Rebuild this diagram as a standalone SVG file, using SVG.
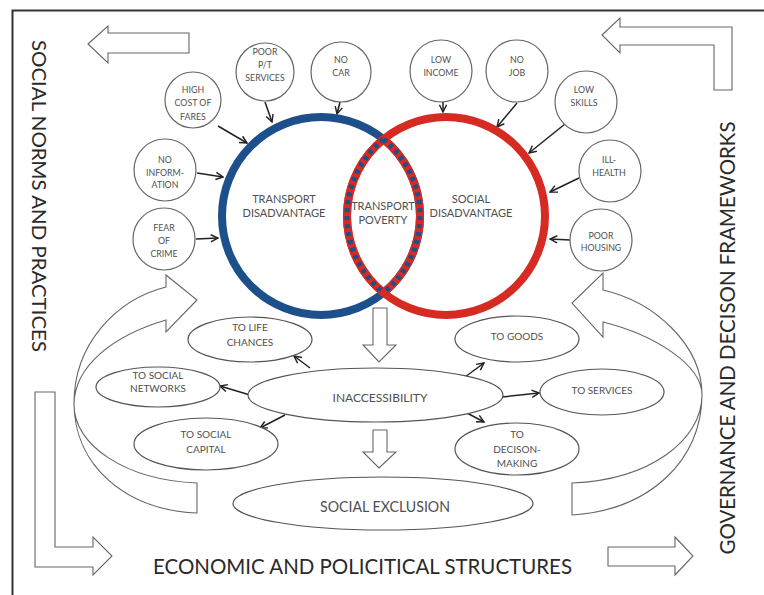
<svg xmlns="http://www.w3.org/2000/svg" width="764" height="595" viewBox="0 0 764 595">
<defs>
<style>
.t{font-family:Lato,"Liberation Sans",sans-serif;fill:#505050;text-anchor:middle}
.s{font-size:8.8px}
.m{font-size:10px}
.big{font-family:Lato,"Liberation Sans",sans-serif;fill:#2a2a2a;text-anchor:middle}
.sc{fill:#fff;stroke:#666;stroke-width:1.2}
.el{fill:#fff;stroke:#555;stroke-width:1.2}
.ba{fill:#fff;stroke:#666;stroke-width:1.1;stroke-linejoin:miter}
.cn line{stroke:#222;stroke-width:1.5;marker-end:url(#ah)}
</style>
<marker id="ah" viewBox="0 0 10 10" refX="9" refY="5" markerWidth="9" markerHeight="9" markerUnits="userSpaceOnUse" orient="auto">
<path d="M1,1 L9,5 L1,9" fill="none" stroke="#222" stroke-width="1.6"/>
</marker>
</defs>
<rect x="0" y="0" width="764" height="595" fill="#fff"/>
<rect x="12.5" y="10.5" width="760" height="600" fill="none" stroke="#333" stroke-width="2"/>

<!-- side texts -->
<g id="side-left"><text class="big" font-size="19" transform="translate(32,196) rotate(90)" textLength="312" lengthAdjust="spacingAndGlyphs">SOCIAL NORMS AND PRACTICES</text></g>
<g id="side-right"><text class="big" font-size="21" transform="translate(735,338) rotate(-90)" textLength="433" lengthAdjust="spacingAndGlyphs">GOVERNANCE AND DECISON FRAMEWORKS</text></g>
<g id="side-bottom"><text class="big" font-size="21" x="362.5" y="574" textLength="419" lengthAdjust="spacingAndGlyphs">ECONOMIC AND POLICITICAL STRUCTURES</text></g>

<!-- block arrows -->
<g id="block-arrows">
<polygon class="ba" points="88,44 108,26 108,33 189,33 189,53 108,53 108,63"/>
<polygon class="ba" points="602,35 620,18 620,27 732,27 732,90 714,90 714,45 620,45 620,53"/>
<polygon class="ba" points="35,392 55,392 55,547 93,547 93,537 112,556 93,575 93,567 35,567"/>
<polygon class="ba" points="608,547 675,547 675,537 693,556 675,575 675,566 608,566"/>
<path class="ba" d="M166,287 L166,275 L197,300 L166,332 L166,320 C115,335 74,365 74,405 C74,445 125,480 197,483 L197,513 C125,510 74,465 74,403 C74,345 115,300 166,287 Z"/>
<path class="ba" d="M603,290 L603,273 L572,303 L603,337 L603,322 C655,335 702,365 702,395 C702,440 650,480 572,483 L572,515 C650,510 702,460 702,395 C702,345 655,302 603,290 Z"/>
<polygon class="ba" points="373,308 387,308 387,345 396,345 379,362 363,345 373,345"/>
<polygon class="ba" points="373,430 387,430 387,452 396,452 379,468 363,452 373,452"/>
</g>

<!-- connectors -->
<g id="connectors" class="cn">
<line x1="218" y1="126" x2="247" y2="143"/>
<line x1="265" y1="102" x2="272" y2="122"/>
<line x1="340" y1="102" x2="337" y2="114"/>
<line x1="197" y1="173" x2="223" y2="177"/>
<line x1="196" y1="239" x2="218" y2="238"/>
<line x1="443" y1="102" x2="443" y2="112"/>
<line x1="517" y1="103" x2="497" y2="127"/>
<line x1="565" y1="124" x2="529" y2="153"/>
<line x1="579" y1="178" x2="550" y2="192"/>
<line x1="570" y1="240" x2="550" y2="239"/>
<line x1="310" y1="368" x2="294" y2="356"/>
<line x1="250" y1="395" x2="220" y2="386"/>
<line x1="285" y1="415" x2="260" y2="428"/>
<line x1="465" y1="377" x2="484" y2="363"/>
<line x1="502" y1="397" x2="539" y2="393"/>
<line x1="467" y1="413" x2="484" y2="422"/>
</g>

<!-- big circles -->
<g id="transport-disadvantage">
<circle cx="321" cy="216" r="99" fill="none" stroke="#1d4f8a" stroke-width="8"/>
<text class="t" font-size="11" x="284" y="203">TRANSPORT</text>
<text class="t" font-size="11" x="284" y="217">DISADVANTAGE</text>
</g>
<g id="social-disadvantage">
<circle cx="446" cy="216" r="99" fill="none" stroke="#d62b22" stroke-width="8"/>
<text class="t" font-size="11" x="471" y="203">SOCIAL</text>
<text class="t" font-size="11" x="471" y="217">DISADVANTAGE</text>
</g>
<g id="transport-poverty">
<path d="M383.5,139.2 A99,99 0 0 1 383.5,292.8" fill="none" stroke="#d62b22" stroke-width="8"/>
<path d="M383.5,139.2 A99,99 0 0 0 383.5,292.8" fill="none" stroke="#d62b22" stroke-width="8"/>
<path d="M383.5,139.2 A99,99 0 0 1 383.5,292.8" fill="none" stroke="#1d4f8a" stroke-width="5" stroke-dasharray="4 4"/>
<path d="M383.5,139.2 A99,99 0 0 0 383.5,292.8" fill="none" stroke="#1d4f8a" stroke-width="5" stroke-dasharray="4 4"/>
<text class="t" font-size="11" x="383" y="210">TRANSPORT</text>
<text class="t" font-size="11" x="383" y="224">POVERTY</text>
</g>

<!-- small circles -->
<g id="high-cost"><circle class="sc" cx="193" cy="100" r="28"/>
<text class="t s" x="193" y="93">HIGH</text><text class="t s" x="193" y="106">COST OF</text><text class="t s" x="193" y="120">FARES</text></g>
<g id="poor-pt"><circle class="sc" cx="265" cy="72" r="29"/>
<text class="t s" x="265" y="55">POOR</text><text class="t s" x="265" y="68">P/T</text><text class="t s" x="265" y="81">SERVICES</text></g>
<g id="no-car"><circle class="sc" cx="341" cy="72" r="30"/>
<text class="t s" x="341" y="63">NO</text><text class="t s" x="341" y="76">CAR</text></g>
<g id="no-information"><circle class="sc" cx="165" cy="170" r="31"/>
<text class="t s" x="165" y="163">NO</text><text class="t s" x="165" y="176">INFORM-</text><text class="t s" x="165" y="188">ATION</text></g>
<g id="fear-of-crime"><circle class="sc" cx="164" cy="239" r="31"/>
<text class="t s" x="164" y="231">FEAR</text><text class="t s" x="164" y="244">OF</text><text class="t s" x="164" y="257">CRIME</text></g>
<g id="low-income"><circle class="sc" cx="441" cy="71" r="31"/>
<text class="t s" x="441" y="63">LOW</text><text class="t s" x="441" y="76">INCOME</text></g>
<g id="no-job"><circle class="sc" cx="517" cy="71" r="31"/>
<text class="t s" x="517" y="63">NO</text><text class="t s" x="517" y="76">JOB</text></g>
<g id="low-skills"><circle class="sc" cx="586" cy="102" r="31"/>
<text class="t s" x="584" y="93">LOW</text><text class="t s" x="584" y="106">SKILLS</text></g>
<g id="ill-health"><circle class="sc" cx="610" cy="171" r="31"/>
<text class="t s" x="609" y="163">ILL-</text><text class="t s" x="609" y="176">HEALTH</text></g>
<g id="poor-housing"><circle class="sc" cx="601" cy="240" r="31"/>
<text class="t s" x="601" y="239">POOR</text><text class="t s" x="601" y="251">HOUSING</text></g>

<!-- ellipses -->
<g id="life-chances"><ellipse class="el" cx="250" cy="339.5" rx="62" ry="22.5"/>
<text class="t m" x="250" y="331">TO LIFE</text><text class="t m" x="250" y="346">CHANCES</text></g>
<g id="social-networks"><ellipse class="el" cx="158" cy="387" rx="62" ry="20"/>
<text class="t m" x="158" y="379">TO SOCIAL</text><text class="t m" x="158" y="392">NETWORKS</text></g>
<g id="social-capital"><ellipse class="el" cx="206" cy="444" rx="72" ry="26"/>
<text class="t m" x="206" y="438">TO SOCIAL</text><text class="t m" x="206" y="453">CAPITAL</text></g>
<g id="inaccessibility"><ellipse class="el" cx="375.5" cy="395" rx="127.5" ry="27"/>
<text class="t" font-size="12" x="380" y="402">INACCESSIBILITY</text></g>
<g id="social-exclusion"><ellipse class="el" cx="383" cy="503.5" rx="150" ry="26.5"/>
<text class="t" font-size="16" x="385" y="512" textLength="130" lengthAdjust="spacingAndGlyphs">SOCIAL EXCLUSION</text></g>
<g id="goods"><ellipse class="el" cx="517" cy="339" rx="62" ry="23"/>
<text class="t m" x="517" y="340">TO GOODS</text></g>
<g id="services"><ellipse class="el" cx="602" cy="392" rx="62" ry="23"/>
<text class="t m" x="602" y="394">TO SERVICES</text></g>
<g id="decision-making"><ellipse class="el" cx="517" cy="449" rx="62" ry="26"/>
<text class="t m" x="517" y="438">TO</text><text class="t m" x="517" y="453">DECISON-</text><text class="t m" x="517" y="467">MAKING</text></g>
</svg>
